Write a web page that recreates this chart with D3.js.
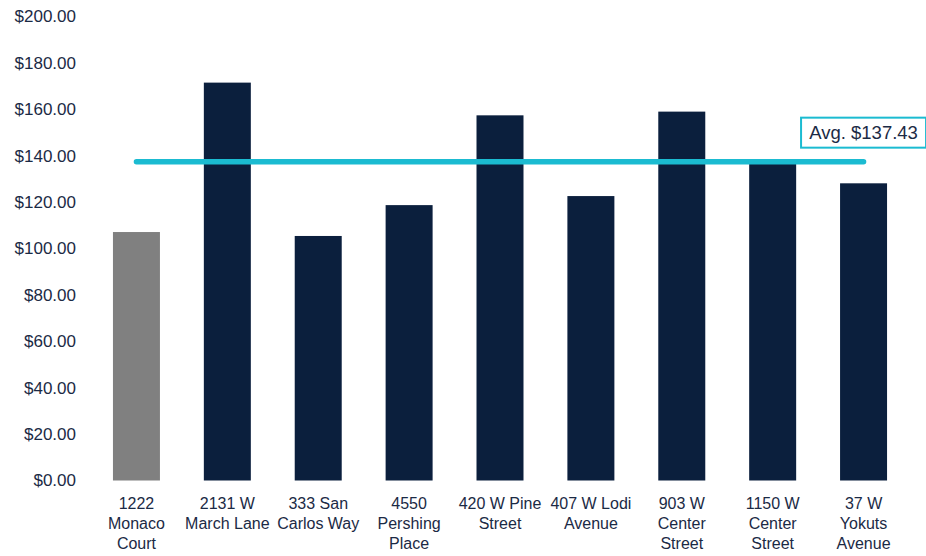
<!DOCTYPE html>
<html>
<head>
<meta charset="utf-8">
<script src="https://cdn.jsdelivr.net/npm/d3@7"></script>
<style>
  body { margin: 0; background: #fff; }
  svg { font-family: "Liberation Sans", Arial, Helvetica, sans-serif; }
</style>
</head>
<body>
<svg width="926" height="556"></svg>
<script>
// адреса объектов (первый - оцениваемый объект, остальные - аналоги)
const properties = ["1222 Monaco Court", "2131 W March Lane", "333 San Carlos Way",
    "4550 Pershing Place", "420 W Pine Street", "407 W Lodi Avenue",
    "903 W Center Street", "1150 W Center Street", "37 W Yokuts Avenue"];
// цена за кв. фут
const prices = [107.1, 171.5, 105.4, 118.7, 157.4, 122.6, 159.0, 136.7, 128.1];
const avgPrice = 137.43;
const yTicks = [0, 20, 40, 60, 80, 100, 120, 140, 160, 180, 200];

const svg = d3.select("svg");
const area = { left: 91, right: 909, top: 16.5, bottom: 480.5 };

const scX = d3.scaleBand()
    .domain(properties)
    .range([area.left, area.right])
    .paddingInner(0.483)
    .paddingOuter(0.2415);

const scY = d3.scaleLinear()
    .domain([0, 200])
    .range([area.bottom, area.top]);

const fmt = d => "$" + d3.format(",.2f")(d);

// ось Y - только подписи
const axisY = svg.append("g")
    .attr("transform", `translate(76, 0)`)
    .call(d3.axisLeft(scY).tickValues(yTicks).tickFormat(fmt).tickSize(0).tickPadding(0));
axisY.select(".domain").remove();
axisY.selectAll("text")
    .attr("font-size", 17)
    .attr("font-family", "Liberation Sans, Arial, sans-serif")
    .attr("fill", "#1b2a45");

// столбцы
svg.selectAll(".bar")
    .data(properties)
    .enter()
    .append("rect")
    .attr("x", d => scX(d))
    .attr("y", (d, i) => scY(prices[i]))
    .attr("width", scX.bandwidth())
    .attr("height", (d, i) => scY(0) - scY(prices[i]))
    .attr("fill", (d, i) => i === 0 ? "#808080" : "#0b1f3d");

// подписи по оси X с переносом слов
const axisX = svg.append("g")
    .attr("transform", `translate(0, ${area.bottom})`)
    .call(d3.axisBottom(scX).tickSize(0).tickPadding(0));
axisX.select(".domain").remove();
axisX.selectAll("text").each(function(d) {
    const t = d3.select(this)
        .text(null)
        .attr("y", 0)
        .attr("dy", null)
        .attr("font-size", 16)
        .attr("font-family", "Liberation Sans, Arial, sans-serif")
        .attr("fill", "#1b2a45");
    const words = d.split(" ");
    let lines = [], cur = [];
    words.forEach(w => {
        const probe = t.append("tspan").text(cur.concat(w).join(" "));
        const wdt = probe.node().getComputedTextLength();
        probe.remove();
        if (wdt > 88 && cur.length) { lines.push(cur.join(" ")); cur = [w]; }
        else cur.push(w);
    });
    lines.push(cur.join(" "));
    lines.forEach((ln, k) => {
        t.append("tspan").attr("x", 0).attr("y", 28.5 + k * 20).text(ln);
    });
});

// линия среднего значения
const first = properties[0], last = properties[properties.length - 1];
const xa = scX(first) + scX.bandwidth() / 2;
const xb = scX(last) + scX.bandwidth() / 2;
svg.append("line")
    .attr("x1", xa).attr("x2", xb)
    .attr("y1", scY(avgPrice)).attr("y2", scY(avgPrice))
    .attr("stroke", "#1bbbd1")
    .attr("stroke-width", 5.5)
    .attr("stroke-linecap", "round");

// подпись среднего
const boxW = 125, boxH = 30;
svg.append("rect")
    .attr("x", xb - boxW / 2)
    .attr("y", scY(avgPrice) - 14 - boxH)
    .attr("width", boxW).attr("height", boxH)
    .attr("fill", "#fff")
    .attr("stroke", "#1bbbd1")
    .attr("stroke-width", 2);
svg.append("text")
    .attr("x", xb)
    .attr("y", scY(avgPrice) - 14 - boxH / 2)
    .attr("dy", "0.35em")
    .attr("text-anchor", "middle")
    .attr("font-size", 18.5)
    .attr("fill", "#1b2a45")
    .text("Avg. " + fmt(avgPrice));
</script>
</body>
</html>
